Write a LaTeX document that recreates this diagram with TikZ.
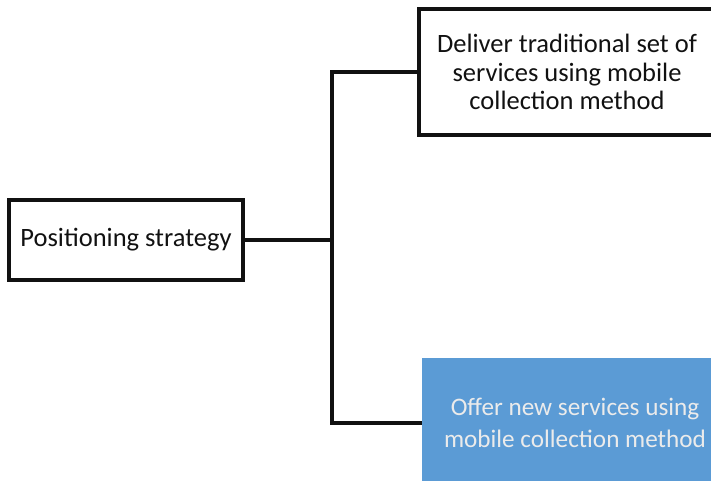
\documentclass[tikz,border=0pt]{standalone}
\usepackage{fontspec}
\setmainfont{Carlito}
\definecolor{boxblue}{HTML}{5B9BD5}
\definecolor{ink}{HTML}{111111}
\begin{document}
\begin{tikzpicture}[x=1pt,y=1pt,
  framed/.style={draw=ink,line width=4pt,rectangle,align=center,
    font=\fontsize{26.5}{28.5}\selectfont,text=ink,inner sep=0pt},
  filled/.style={fill=boxblue,rectangle,align=center,
    font=\fontsize{25.2}{32}\selectfont,text=white!92!black,inner sep=0pt},
  link/.style={draw=ink,line width=4pt,line cap=rect}]
\useasboundingbox (0,0) rectangle (711,480);
\clip (0,0) rectangle (711,480);
\node[framed,minimum width=234pt,minimum height=80pt] (pos) at (126,240) {Positioning strategy};
\node[framed,minimum width=296pt,minimum height=126pt] (trad) at (567,408)
  {Deliver traditional set of\\services using mobile\\collection method};
\node[filled,minimum width=306pt,minimum height=130pt] (new) at (575,57)
  {Offer new services using\\mobile collection method};
\coordinate (j) at (332,240);
\draw[link] (pos.east) -- (j);
\draw[link,line cap=butt] (trad.west) -- (trad.west -| j) -- (new.west -| j) -- (new.west);
\end{tikzpicture}
\end{document}
